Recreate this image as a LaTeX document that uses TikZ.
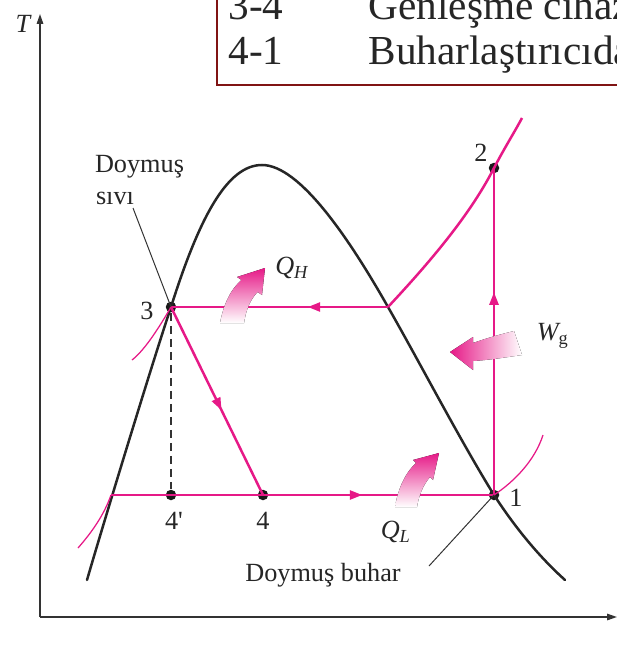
\documentclass[tikz,border=0pt]{standalone}
\usepackage{fontspec}
\setmainfont{Liberation Serif}
\usetikzlibrary{arrows.meta,decorations.markings}
\definecolor{cyclepink}{RGB}{230,25,135}
\definecolor{boxred}{RGB}{128,20,20}

\begin{document}
\begin{tikzpicture}[
  x=0.4pt, y=-0.4pt,
  font=\fontsize{10.5}{12.6}\selectfont,
  dome/.style={line width=1pt, draw=black!85, line cap=round},
  cycleline/.style={line width=1pt, draw=cyclepink},
  thinpink/.style={line width=0.5pt, draw=cyclepink},
  leader/.style={line width=0.4pt, draw=black!80},
  statept/.style={circle, fill=black!90, inner sep=0pt, minimum size=4.2pt},
  lbl/.style={text=black!85, inner sep=1pt},
  boxtxt/.style={text=black!85, inner sep=0pt, anchor=base west, font=\fontsize{16.5}{19}\selectfont},
  midtip/.style={postaction={decorate}, decoration={markings,
    mark=at position #1 with {\arrow{Triangle[length=5pt,width=3.6pt]}}}},
  heatarrow/.style={draw=none},
  axis/.style={line width=0.6pt, draw=black!80, -{Triangle[length=4pt,width=2.6pt]}}
]
\useasboundingbox (0,0) rectangle (617,646);
\clip (0,0) rectangle (617,646);

% legend box, cut by the frame
\draw[boxred, line width=0.8pt] (217,-60) rectangle (720,85);
\node[boxtxt] (row34) at (228,20) {3-4};
\node[boxtxt] (txt34) at (368,20) {Genleşme cihazında kısılma};
\node[boxtxt] (row41) at (228,65) {4-1};
\node[boxtxt] (txt41) at (368,65) {Buharlaştırıcıda sabit basınçta ısı alınması};

% axes
\coordinate (origin) at (40,617);
\coordinate (ttop) at (40,14);
\coordinate (sright) at (617,617);
\draw[axis] (origin) -- (ttop);
\draw[axis] (origin) -- (sright);
\node[lbl, font=\fontsize{10.5}{12}\selectfont\itshape] (tlabel) at (23,24) {T};

% state points
\coordinate (c41) at (111,495);
\coordinate (c23) at (388,307);
\node[statept] (p3) at (171,307) {};
\node[statept] (p4p) at (171,495) {};
\node[statept] (p4) at (263,495) {};
\node[statept] (p1) at (494,495) {};
\node[statept] (p2) at (494,168) {};

% saturation dome
\draw[dome] (87,580) .. controls (100,535) and (150,370) .. (p3.center)
  .. controls (200,215) and (228,165) .. (262,165)
  .. controls (300,165) and (350,240) .. (c23)
  .. controls (420,363) and (460,440) .. (p1.center)
  .. controls (520,535) and (545,562) .. (565,580);

% constant pressure lines
\draw[thinpink] (132,360) .. controls (145,350) and (160,326) .. (p3.center);
\draw[thinpink] (78,548) .. controls (92,532) and (104,515) .. (c41);
\draw[thinpink] (p1.center) .. controls (515,481) and (535,460) .. (543,435);
\draw[thinpink] (c41) -- (p4.center);
\draw[cycleline] (c23) .. controls (430,262) and (470,215) .. (p2.center)
  .. controls (505,147) and (514,133) .. (522,118);

% cycle
\draw[cycleline, midtip=0.55] (p3.center) -- (p4.center);
\draw[cycleline, midtip=0.43] (p4.center) -- (p1.center);
\draw[cycleline, midtip=0.62] (p1.center) -- (p2.center);
\draw[cycleline, midtip=0.37] (c23) -- (p3.center);
\draw[leader, line width=0.5pt, dash pattern=on 3.2pt off 2pt] (p3) -- (p4p);

% heat and work arrows
\fill[heatarrow, bottom color=white, top color=cyclepink]
  (220,323) .. controls (224,302) and (232,288) .. (241.5,280) -- (237,277) -- (265,268)
  -- (262,295) -- (257.5,292) .. controls (250,300) and (246,310) .. (244,323) -- cycle;
\fill[heatarrow, bottom color=white, top color=cyclepink]
  (395,507) .. controls (398,488) and (406,472) .. (416,463) -- (413,460) -- (439,453)
  -- (433,480) -- (430,477) .. controls (424,484) and (419,494) .. (417,507) -- cycle;
\fill[heatarrow, left color=cyclepink, right color=white]
  (450,352) -- (473,337) -- (473,343) .. controls (490,337) and (502,334) .. (514,331)
  -- (522,355) .. controls (508,357) and (490,360) .. (473,361) -- (473,370) -- cycle;

% labels
\node[lbl] (lab3) at (147,311) {3};
\node[lbl] (lab2) at (481,153) {2};
\node[lbl] (lab1) at (516,498) {1};
\node[lbl] (lab4p) at (174,521) {4\textquotesingle};
\node[lbl] (lab4) at (263,521) {4};
\node[lbl] (qh) at (292,268) {\itshape Q\textsubscript{H}};
\node[lbl] (ql) at (396,532) {\itshape Q\textsubscript{L}};
\node[lbl] (wg) at (553,336) {{\itshape W}\textsubscript{g}};
\node[lbl, anchor=base west] (liqtxt) at (92,173) {Doymuş};
\node[lbl, anchor=base west] (liqtxt2) at (93,204) {sıvı};
\node[lbl] (vaptxt) at (323,575) {Doymuş buhar};
\coordinate (liqlead) at (133,208);
\coordinate (vaplead) at (429,566);
\draw[leader] (liqlead) -- (p3.center);
\draw[leader] (vaplead) -- (p1.center);
\end{tikzpicture}
\end{document}
